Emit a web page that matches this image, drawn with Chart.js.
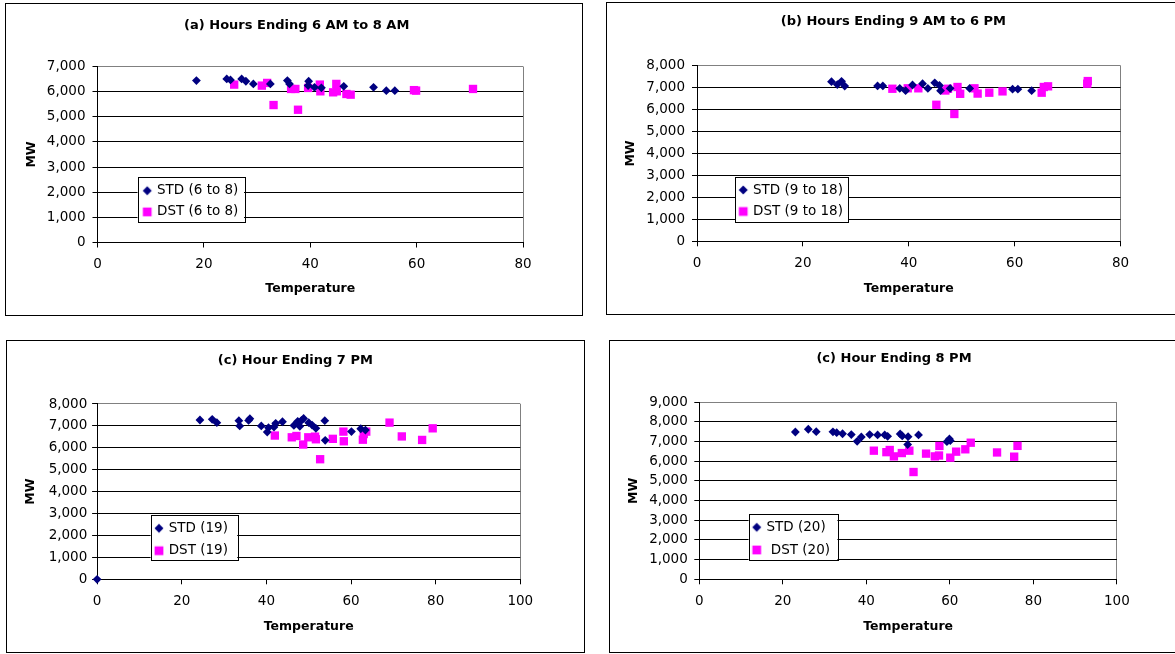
<!DOCTYPE html>
<html><head><meta charset="utf-8">
<script src="https://cdn.jsdelivr.net/npm/chart.js@4.4.1/dist/chart.umd.min.js"></script>
<style>
html,body{margin:0;padding:0;background:#fff;width:1175px;height:654px;overflow:hidden;position:relative;}
.frame{position:absolute;border:1px solid #000;box-sizing:border-box;background:#fff;overflow:hidden;}
canvas{display:block;}
</style></head><body>
<div id="fa" class="frame"><canvas id="ca"></canvas></div>
<div id="fb" class="frame"><canvas id="cb"></canvas></div>
<div id="fc" class="frame"><canvas id="cc"></canvas></div>
<div id="fd" class="frame"><canvas id="cd"></canvas></div>
<script>
// ---------- DATA ----------
const stdA_temp = [18.6, 24.3, 25.0, 27.1, 27.9, 29.3, 32.5, 35.7, 36.1, 39.7, 39.6, 40.8, 42.1, 46.3, 51.9, 54.3, 55.9];
const stdA_mw   = [6440, 6507, 6467, 6507, 6413, 6307, 6307, 6440, 6307, 6413, 6240, 6173, 6150, 6213, 6173, 6040, 6040];
const dstA_temp = [25.7, 30.9, 31.9, 33.1, 36.4, 37.2, 37.7, 39.6, 41.8, 41.9, 44.3, 44.9, 45.0, 46.8, 47.6, 59.5, 59.9, 70.6];
const dstA_mw   = [6280, 6240, 6347, 5467, 6107, 6107, 5280, 6147, 6280, 6013, 5973, 6307, 6013, 5907, 5880, 6060, 6040, 6107];

const stdB_temp = [25.4, 26.5, 27.3, 27.9, 34.1, 35.1, 38.3, 39.4, 40.7, 42.6, 43.6, 44.9, 45.8, 46.0, 47.8, 51.5, 59.6, 60.6, 63.2];
const stdB_mw   = [7270, 7140, 7290, 7070, 7080, 7080, 6965, 6860, 7120, 7180, 6965, 7220, 7100, 6860, 6965, 6965, 6930, 6930, 6860];
const dstB_temp = [36.9, 39.8, 41.8, 45.2, 46.9, 47.4, 48.6, 49.2, 49.7, 52.4, 53.0, 55.2, 57.7, 65.1, 65.5, 66.3, 73.7, 73.8];
const dstB_mw   = [6950, 6970, 6970, 6220, 6870, 6950, 5800, 7030, 6720, 6970, 6730, 6770, 6830, 6770, 7030, 7060, 7180, 7300];

const stdC_temp = [0, 24.3, 27.2, 28.3, 33.5, 33.7, 35.8, 36.1, 38.8, 40.2, 40.5, 41.8, 42.2, 43.8, 46.5, 47.4, 47.9, 48.3, 48.8, 50.0, 50.8, 51.7, 53.8, 53.9, 60.1, 62.3, 63.4];
const stdC_mw   = [0, 7270, 7300, 7150, 7240, 7000, 7250, 7330, 7000, 6720, 6920, 6950, 7120, 7190, 7020, 7210, 6980, 7250, 7340, 7150, 7040, 6890, 7240, 6340, 6740, 6870, 6810];
const dstC_temp = [42.0, 46.0, 47.1, 48.7, 49.9, 51.5, 51.7, 52.7, 55.7, 58.2, 58.3, 62.8, 63.0, 63.6, 69.1, 72.0, 76.8, 79.3];
const dstC_mw   = [6560, 6480, 6540, 6150, 6480, 6510, 6390, 5480, 6410, 6740, 6300, 6370, 6630, 6740, 7150, 6520, 6360, 6890];

const stdD_temp = [23.0, 26.1, 28.0, 32.0, 32.9, 34.3, 36.4, 37.8, 38.8, 40.8, 42.7, 44.4, 45.1, 48.1, 48.6, 50.0, 49.9, 52.5, 59.3, 59.9, 60.1];
const stdD_mw   = [7490, 7630, 7505, 7500, 7455, 7400, 7360, 7015, 7235, 7360, 7340, 7340, 7270, 7390, 7290, 7250, 6850, 7340, 7000, 7140, 7050];
const dstD_temp = [41.8, 44.8, 45.6, 46.6, 48.5, 50.3, 51.3, 54.3, 56.4, 57.4, 57.5, 60.1, 61.5, 63.7, 65.0, 71.3, 75.4, 76.2];
const dstD_mw   = [6540, 6465, 6575, 6250, 6420, 6540, 5455, 6390, 6250, 6295, 6780, 6185, 6490, 6610, 6945, 6450, 6235, 6785];

const titles = ['(a) Hours Ending 6 AM to 8 AM', '(b) Hours Ending 9 AM to 6 PM', '(c) Hour Ending 7 PM', '(c) Hour Ending 8 PM'];
const stdLabels = ['STD (6 to 8)', 'STD (9 to 18)', 'STD (19)', 'STD (20)'];
const dstLabels = ['DST (6 to 8)', 'DST (9 to 18)', 'DST (19)', ' DST (20)'];
const xMaxes = [80, 80, 100, 100];
const yMaxes = [7000, 8000, 8000, 9000];
const xStep = 20, yStep = 1000;
const xTitle = 'Temperature', yTitle = 'MW';

// ---------- STYLE / LAYOUT ----------
const STD_COLOR = '#000080', DST_COLOR = '#FF00FF';
const FAMILY = "'DejaVu Sans', sans-serif";
const TITLE_SIZE = 13, TICK_SIZE = 13.5, AXIS_TITLE_SIZE = 12.5, LEGEND_SIZE = 13.5;
const TICK_LEN = 5;

const layouts = [
  {id:'a', frame:[5,3,578,313], area:[97.5,66.5,523,242.5], titleX:296.7, titleY:25.5,
   yLabelRight:85.5, xLabelY:264, xTitleY:289, yTitleX:31.7,
   box:[137.5,177,106.5,45], textX:157, row1:190.7, gap:21.2},
  {id:'b', frame:[606,2,570,313], area:[697,65.7,1120.6,241.3], titleX:893.4, titleY:21.7,
   yLabelRight:685, xLabelY:263.3, xTitleY:289, yTitleX:631,
   box:[735,176.7,113,45.3], textX:753, row1:190, gap:21.5},
  {id:'c', frame:[6,340,579,313], area:[97.1,404,520.3,579.3], titleX:295.3, titleY:360.7,
   yLabelRight:87.3, xLabelY:601.7, xTitleY:627, yTitleX:30.8,
   box:[150.6,515.3,86.6,45.4], textX:168.7, row1:528.3, gap:22.4},
  {id:'d', frame:[609,340,570,313], area:[699.3,402.3,1116.9,579.3], titleX:894, titleY:359,
   yLabelRight:687.8, xLabelY:601.7, xTitleY:627, yTitleX:634,
   box:[748.6,514.3,88.8,45.7], textX:766.5, row1:527.3, gap:22.7}
];

const series = [
  [stdA_temp, stdA_mw, dstA_temp, dstA_mw],
  [stdB_temp, stdB_mw, dstB_temp, dstB_mw],
  [stdC_temp, stdC_mw, dstC_temp, dstC_mw],
  [stdD_temp, stdD_mw, dstD_temp, dstD_mw]
];

function pts(xs, ys) { return xs.map((x, i) => ({x: x, y: ys[i]})); }

function markerImage(style, radius, color) {
  const c = document.createElement('canvas');
  c.width = 14; c.height = 14;
  const g = c.getContext('2d');
  g.fillStyle = color; g.strokeStyle = color;
  if (Chart.helpers && Chart.helpers.drawPoint) {
    Chart.helpers.drawPoint(g, {pointStyle: style, radius: radius, rotation: 0, borderWidth: 0}, 7, 7);
  }
  return c;
}

const legendFrame = {
  id: 'legendFrame',
  afterLayout(chart, args, o) {
    const lg = chart.legend;
    if (lg) {
      lg.left = o.left; lg.top = o.top; lg.width = 220; lg.height = 120;
      lg.right = o.left + 220; lg.bottom = o.top + 120;
      if (!lg.__patched) {
        const orig = lg.draw;
        const b = o.box;
        lg.draw = function(area) {
          const ctx = this.ctx;
          ctx.save();
          ctx.fillStyle = '#fff';
          ctx.fillRect(b[0], b[1], b[2], b[3]);
          ctx.strokeStyle = '#000';
          ctx.lineWidth = 1;
          ctx.strokeRect(Math.round(b[0]) + 0.5, Math.round(b[1]) + 0.5, Math.round(b[2]), Math.round(b[3]));
          ctx.restore();
          orig.call(this, area);
        };
        lg.__patched = true;
      }
    }
    const tb = chart.titleBlock;
    if (tb) { tb.left = o.titleX - 200; tb.right = o.titleX + 200; tb.width = 400; }
  }
};

Chart.defaults.font.family = FAMILY;
Chart.defaults.color = '#000';

layouts.forEach((L, k) => {
  const [fl, ft, fw, fh] = L.frame;
  const frame = document.getElementById('f' + L.id);
  Object.assign(frame.style, {left: fl + 'px', top: ft + 'px', width: fw + 'px', height: fh + 'px'});
  const ox = fl + 1, oy = ft + 1, cw = fw - 2, ch = fh - 2;
  const canvas = document.getElementById('c' + L.id);
  canvas.width = cw; canvas.height = ch;
  canvas.style.width = cw + 'px'; canvas.style.height = ch + 'px';

  const [al, at, ar, ab] = L.area;
  const tLH = TITLE_SIZE * 1.2, aLH = AXIS_TITLE_SIZE * 1.2, kLH = TICK_SIZE * 1.2;
  const titlePadTop = (L.titleY - oy) - tLH / 2;
  const titlePadBottom = (at - oy) - titlePadTop - tLH;
  const padRight = cw - (ar - ox);
  const yAxisWidth = al - ox;
  const xAxisHeight = ch - (ab - oy);
  const yTickPad = (al - L.yLabelRight) - TICK_LEN;
  const xTickPad = (L.xLabelY - ab) - TICK_LEN - kLH / 2;
  const xTitlePadBottom = ch - (L.xTitleY - oy) - aLH / 2;
  const yTitlePadTop = (L.yTitleX - ox) - aLH / 2;
  const legPad = L.gap - LEGEND_SIZE;
  const boxW = 6;
  const legLeft = (L.textX - ox) - boxW - LEGEND_SIZE / 2 - legPad;
  const legTop = (L.row1 - oy) - LEGEND_SIZE / 2 - legPad;

  const [sx, sy, dx, dy] = series[k];
  const xMax = xMaxes[k], yMax = yMaxes[k];

  new Chart(canvas, {
    type: 'scatter',
    data: {
      datasets: [
        {label: stdLabels[k], data: pts(sx, sy), pointStyle: 'rectRot', pointRadius: 4.4, pointHoverRadius: 4.4,
         backgroundColor: STD_COLOR, borderColor: STD_COLOR, borderWidth: 0, clip: false},
        {label: dstLabels[k], data: pts(dx, dy), pointStyle: 'rect', pointRadius: 5.9, pointHoverRadius: 5.9,
         backgroundColor: DST_COLOR, borderColor: DST_COLOR, borderWidth: 0, clip: false}
      ]
    },
    options: {
      responsive: false, animation: false, devicePixelRatio: 1,
      events: [],
      layout: {padding: {left: 0, top: 0, right: padRight, bottom: 0}},
      plugins: {
        title: {display: true, text: titles[k], color: '#000',
                font: {family: FAMILY, size: TITLE_SIZE, weight: 'bold'},
                padding: {top: titlePadTop, bottom: titlePadBottom}},
        tooltip: {enabled: false},
        legend: {
          display: true, position: 'chartArea', align: 'start',
          labels: {
            usePointStyle: true, boxWidth: boxW, boxHeight: boxW, padding: legPad, textAlign: 'left',
            color: '#000', font: {family: FAMILY, size: LEGEND_SIZE},
            generateLabels(chart) {
              return chart.data.datasets.map((ds, i) => ({
                text: ds.label, fillStyle: ds.backgroundColor, strokeStyle: ds.backgroundColor,
                lineWidth: 0, hidden: false, datasetIndex: i, fontColor: '#000',
                pointStyle: i === 0 ? markerImage('rectRot', 4.5, STD_COLOR) : markerImage('rect', 6.2, DST_COLOR)
              }));
            }
          }
        },
        legendFrame: {left: legLeft, top: legTop, titleX: L.titleX - ox,
                      box: [L.box[0] - ox, L.box[1] - oy, L.box[2], L.box[3]]}
      },
      scales: {
        x: {
          type: 'linear', position: 'bottom', min: 0, max: xMax,
          afterFit(s) { s.height = xAxisHeight; },
          ticks: {stepSize: xStep, padding: xTickPad, color: '#000', font: {family: FAMILY, size: TICK_SIZE}, maxRotation: 0},
          grid: {drawOnChartArea: true, drawTicks: true, tickLength: TICK_LEN, tickColor: '#000', lineWidth: 1,
                 color: (c) => (c.tick && c.tick.value === xMax) ? '#808080' : 'rgba(0,0,0,0)'},
          border: {display: true, color: '#000', width: 1},
          title: {display: true, text: xTitle, color: '#000', font: {family: FAMILY, size: AXIS_TITLE_SIZE, weight: 'bold'},
                  padding: {top: 0, bottom: xTitlePadBottom}}
        },
        y: {
          type: 'linear', position: 'left', min: 0, max: yMax,
          afterFit(s) { s.width = yAxisWidth; },
          ticks: {stepSize: yStep, padding: yTickPad, color: '#000', font: {family: FAMILY, size: TICK_SIZE},
                  callback: (v) => Number(v).toLocaleString('en-US')},
          grid: {drawOnChartArea: true, drawTicks: true, tickLength: TICK_LEN, tickColor: '#000', lineWidth: 1,
                 color: (c) => (c.tick && c.tick.value === yMax) ? '#808080' : '#000'},
          border: {display: true, color: '#000', width: 1},
          title: {display: true, text: yTitle, color: '#000', font: {family: FAMILY, size: AXIS_TITLE_SIZE, weight: 'bold'},
                  padding: {top: yTitlePadTop, bottom: 0}}
        }
      }
    },
    plugins: [legendFrame]
  });
});
</script>
</body></html>
